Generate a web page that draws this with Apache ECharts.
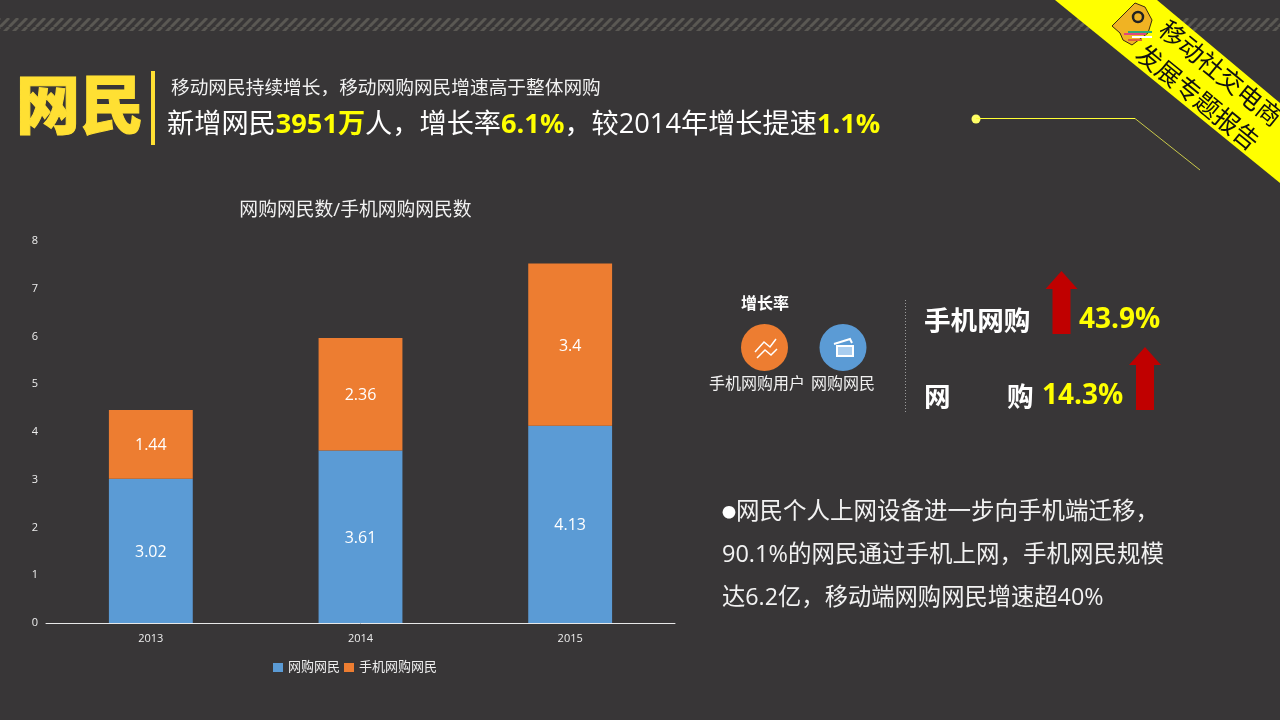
<!DOCTYPE html>
<html><head><meta charset="utf-8">
<script src="https://cdn.jsdelivr.net/npm/echarts@6/dist/echarts.min.js"></script>
<style>html,body{margin:0;padding:0;background:#383637}#c{width:1280px;height:720px}</style>
</head><body><div id="c"></div>
<script>
const years = ['2013', '2014', '2015'];
const netShoppers = [3.02, 3.61, 4.13];
const mobileShoppers = [1.44, 2.36, 3.4];
const seriesNames = ['网购网民', '手机网购网民'];
const chartTitle = '网购网民数/手机网购网民数';
const yTicks = { min: 0, max: 8, interval: 1 };

const F = '"Open Sans","Noto Sans CJK SC",sans-serif';
const CJK = '"Noto Sans CJK SC",sans-serif';
const Y = '#ffff00', W = '#ffffff';

const stripe = document.createElement('canvas');
stripe.width = 9; stripe.height = 9;
const sx = stripe.getContext('2d');
sx.fillStyle = '#383637'; sx.fillRect(0, 0, 9, 9);
sx.strokeStyle = '#5a5853'; sx.lineWidth = 3;
for (let i = -9; i <= 18; i += 9) { sx.beginPath(); sx.moveTo(i, 9); sx.lineTo(i + 9, 0); sx.stroke(); }

function txt(x, y, text, size, fill, extra) {
  return { type: 'text', x, y, z: 10, style: Object.assign({ text, font: 'normal ' + size + 'px ' + F, fill, textVerticalAlign: 'middle' }, extra || {}) };
}
function rich(x, y, parts, size) {
  const map = { w: { fill: W, fontSize: size, fontFamily: F }, y: { fill: Y, fontSize: size, fontFamily: F, fontWeight: 'bold' } };
  return { type: 'text', x, y, z: 10, style: { text: parts.map(p => '{' + p[0] + '|' + p[1] + '}').join(''), rich: map, textVerticalAlign: 'middle' } };
}
function arrow(cx, top, bottom) {
  return { type: 'polygon', z: 8, shape: { points: [[cx, top], [cx + 16, top + 18], [cx + 9, top + 18], [cx + 9, bottom], [cx - 9, bottom], [cx - 9, top + 18], [cx - 16, top + 18]] }, style: { fill: '#c00000' } };
}

const graphics = [
  { type: 'rect', z: 1, shape: { x: 0, y: 18, width: 1280, height: 13 }, style: { fill: { image: stripe, repeat: 'repeat' } } },
  // heading
  txt(16, 104, '网民', 64, '#ffe033', { font: '900 64px ' + CJK, stroke: '#ffe033', lineWidth: 1 }),
  { type: 'rect', z: 5, shape: { x: 151, y: 71, width: 4, height: 74 }, style: { fill: '#ffe033' } },
  txt(171, 89, '移动网民持续增长，移动网购网民增速高于整体网购', 18.7, '#f2f2f2'),
  rich(167, 125, [['w', '新增网民'], ['y', '3951万'], ['w', '人，增长率'], ['y', '6.1%'], ['w', '，较2014年增长提速'], ['y', '1.1%']], 27.2),
  // pointer line
  { type: 'circle', z: 5, shape: { cx: 976, cy: 119, r: 4.5 }, style: { fill: '#ffff66' } },
  { type: 'polyline', z: 5, shape: { points: [[976, 118.5], [1135, 118.5]] }, style: { stroke: '#ffff33', lineWidth: 1, fill: null } },
  { type: 'polyline', z: 5, shape: { points: [[1135, 118.5], [1200, 170]] }, style: { stroke: '#c9c94a', lineWidth: 1, fill: null } },
  // banner
  { type: 'polygon', z: 6, shape: { points: [[1055, 0], [1157, 0], [1280, 103], [1280, 183]] }, style: { fill: Y } },
  { type: 'polygon', z: 7, shape: { points: [[1112, 26], [1135, 3], [1145, 7], [1152, 20], [1148, 33], [1132, 45], [1123, 40], [1120, 33]] }, style: { fill: '#f0b323', stroke: '#3a2a10', lineWidth: 1 } },
  { type: 'circle', z: 8, shape: { cx: 1138, cy: 17, r: 5 }, style: { fill: '#f0b323', stroke: '#222', lineWidth: 2.5 } },
  { type: 'rect', z: 8, shape: { x: 1128, y: 31, width: 24, height: 2 }, style: { fill: '#2ea87a' } },
  { type: 'rect', z: 8, shape: { x: 1124, y: 33, width: 22, height: 2 }, style: { fill: '#e0457b' } },
  { type: 'rect', z: 8, shape: { x: 1132, y: 36, width: 20, height: 2 }, style: { fill: W } },
  { type: 'rect', z: 8, shape: { x: 1128, y: 39, width: 14, height: 2 }, style: { fill: '#e0603a' } },
  { type: 'text', z: 9, x: 1221, y: 73, rotation: -0.685, style: { text: '移动社交电商', font: '25px ' + CJK, fill: '#111', textAlign: 'center', textVerticalAlign: 'middle' } },
  { type: 'text', z: 9, x: 1198, y: 97, rotation: -0.685, style: { text: '发展专题报告', font: '25px ' + CJK, fill: '#111', textAlign: 'center', textVerticalAlign: 'middle' } },
  // growth block
  txt(765, 303, '增长率', 16, W, { textAlign: 'center', font: 'bold 16px ' + CJK }),
  { type: 'circle', z: 5, shape: { cx: 764.5, cy: 347.5, r: 23.5 }, style: { fill: '#ed7d31' } },
  { type: 'polyline', z: 6, shape: { points: [[755, 352], [764, 342], [770, 347], [776, 339]] }, style: { stroke: '#fff', lineWidth: 1.5, fill: null } },
  { type: 'polyline', z: 6, shape: { points: [[757, 358], [765, 350], [771, 355], [777, 349]] }, style: { stroke: '#fff', lineWidth: 1.5, fill: null } },
  { type: 'circle', z: 5, shape: { cx: 843, cy: 347.5, r: 23.5 }, style: { fill: '#5b9bd5' } },
  { type: 'rect', z: 6, shape: { x: 837, y: 346, width: 16, height: 10 }, style: { fill: '#a9cdef', stroke: '#fff', lineWidth: 2 } },
  { type: 'polyline', z: 6, shape: { points: [[834, 344], [850, 339], [852, 343]] }, style: { stroke: '#fff', lineWidth: 2, fill: null } },
  txt(757, 384, '手机网购用户', 16, '#f2f2f2', { textAlign: 'center' }),
  txt(843, 384, '网购网民', 16, '#f2f2f2', { textAlign: 'center' }),
  { type: 'line', z: 5, shape: { x1: 905.5, y1: 300, x2: 905.5, y2: 412 }, style: { stroke: '#9a9a9a', lineWidth: 1, lineDash: [1, 2] } },
  txt(924, 320, '手机网购', 26.6, W, { font: 'bold 26.6px ' + CJK }),
  txt(1079, 320, '43.9%', 28, Y, { font: 'bold 28px ' + F }),
  arrow(1061.5, 271, 334),
  txt(924, 396, '网', 26.6, W, { font: 'bold 26.6px ' + CJK }),
  txt(1007, 396, '购', 26.6, W, { font: 'bold 26.6px ' + CJK }),
  txt(1042, 396, '14.3%', 28, Y, { font: 'bold 28px ' + F }),
  arrow(1145, 347, 410),
  // body
  txt(722, 512, '●', 14, '#ffffff', { font: '14px ' + CJK }),
  txt(736, 512, '网民个人上网设备进一步向手机端迁移，', 23.5, '#f2f2f2'),
  txt(722, 555, '90.1%的网民通过手机上网，手机网民规模', 23.5, '#f2f2f2'),
  txt(722, 598, '达6.2亿，移动端网购网民增速超40%', 23.3, '#f2f2f2')
];

const chart = echarts.init(document.getElementById('c'));
const label = { show: true, position: 'inside', offset: [0, 1.5], color: W, fontSize: 16, fontFamily: F };
chart.setOption({
  backgroundColor: '#383637',
  animation: false,
  title: { text: chartTitle, left: 350.5, top: 196, textAlign: 'center', textStyle: { color: '#f2f2f2', fontSize: 18.8, fontWeight: 'normal', fontFamily: F } },
  legend: { data: seriesNames, left: 'auto', right: 838, top: 656, itemWidth: 10, itemHeight: 9, itemGap: 4, icon: 'rect', textStyle: { color: '#eeeeee', fontSize: 13, fontFamily: F, padding: [0, 0, 0, 0] } },
  grid: { left: 46, right: 605, top: 241, bottom: 97 },
  xAxis: { type: 'category', data: years, axisTick: { show: false }, axisLine: { lineStyle: { color: '#e8e8e8', width: 1 } }, axisLabel: { color: '#eeeeee', fontSize: 11, fontFamily: F, margin: 10 } },
  yAxis: { type: 'value', min: yTicks.min, max: yTicks.max, interval: yTicks.interval, splitLine: { show: false }, axisLine: { show: false }, axisTick: { show: false }, axisLabel: { color: '#eeeeee', fontSize: 11, fontFamily: F, margin: 8 } },
  series: [
    { name: seriesNames[0], type: 'bar', stack: 's', barWidth: '40%', data: netShoppers, itemStyle: { color: '#5b9bd5' }, label },
    { name: seriesNames[1], type: 'bar', stack: 's', barWidth: '40%', data: mobileShoppers, itemStyle: { color: '#ed7d31' }, label }
  ],
  graphic: { elements: graphics }
});
</script></body></html>
